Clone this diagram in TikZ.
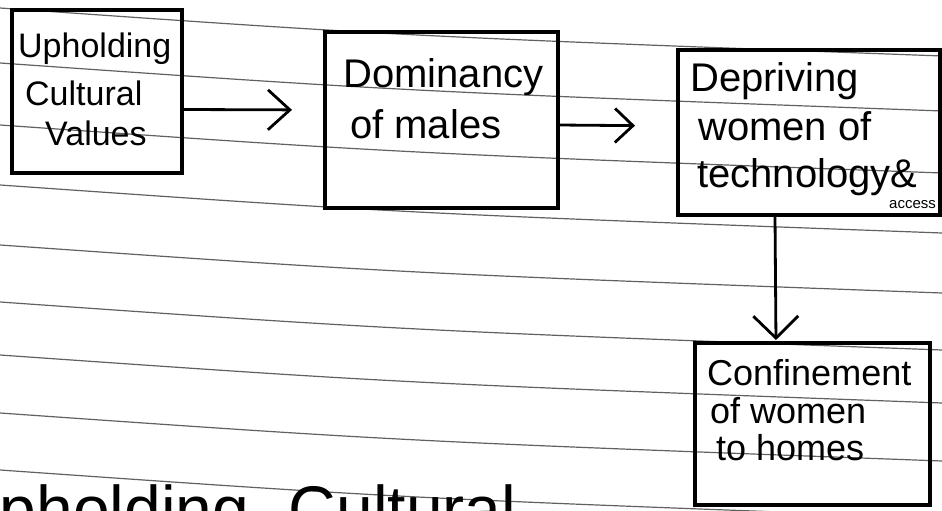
\documentclass[tikz,border=0pt]{standalone}
\usepackage{fontspec}
\setmainfont{Liberation Sans}
\usetikzlibrary{arrows.meta}
\begin{document}
\begin{tikzpicture}[x=1pt,y=-1pt,
  box/.style={draw=black,line width=3.2pt,rectangle,inner sep=0pt,outer sep=0pt},
  ruled/.style={draw=black!62,line width=1.2pt},
  arr/.style={draw=black,line width=2.8pt},
  txta/.style={anchor=base west,inner sep=0pt,font=\fontsize{34pt}{40pt}\selectfont},
  txtb/.style={anchor=base west,inner sep=0pt,font=\fontsize{40pt}{46pt}\selectfont},
  txtd/.style={anchor=base west,inner sep=0pt,font=\fontsize{36pt}{42pt}\selectfont}
]
\fill[white] (0,0) rectangle (942,511);
\useasboundingbox (0,0) rectangle (942,511);
\clip (0,0) rectangle (942,511);
% ruled paper lines
\foreach \yy in {8,63,125,185,245,302,355,413,470}{
  \draw[ruled] (0,\yy) .. controls (400,\yy+28) .. (942,\yy+48);
}
% boxes
\node[box,minimum width=170pt,minimum height=163pt] (b1) at (97,91.5) {};
\node[box,minimum width=233pt,minimum height=176pt] (b2) at (441.5,120) {};
\node[box,minimum width=262pt,minimum height=165pt] (b3) at (809,132.5) {};
\node[box,minimum width=235pt,minimum height=162pt] (b4) at (812.5,424) {};
% texts
\node[txta] (t1a) at (18,58) {Upholding};
\node[txta] (t1b) at (25,105) {Cultural};
\node[txta] (t1c) at (45,145) {Values};
\node[txtb] (t2a) at (343,88) {Dominancy};
\node[txtb] (t2b) at (350,138) {of males};
\node[txtb] (t3a) at (690,92) {Depriving};
\node[txtb] (t3b) at (698,140) {women of};
\node[txtb] (t3c) at (697,187) {technology\&};
\node[anchor=base west,inner sep=0pt,font=\fontsize{15pt}{18pt}\selectfont] (t3d) at (889,208) {access};
\node[txtd] (t4a) at (707,385) {Confinement};
\node[txtd] (t4b) at (710,423) {of women};
\node[txtd] (t4c) at (716,460) {to homes};
\node[anchor=base west,inner sep=0pt,font=\fontsize{66pt}{72pt}\selectfont] (tb) at (-48,532) {Upholding\hspace{0.6em}Cultural};
% connectors
\draw[arr,-{Straight Barb[length=22pt,width=40pt]},shorten >=33pt]
  ([yshift=-18pt]b1.east) -- ([yshift=10pt]b2.west);
\draw[arr,-{Straight Barb[length=18pt,width=34pt]},shorten >=43pt]
  ([yshift=-5pt]b2.east) -- ([yshift=6.5pt]b3.west);
\draw[arr,-{Straight Barb[length=22pt,width=45pt]},shorten >=3pt]
  ([xshift=-34pt]b3.south) -- ([xshift=-36.5pt]b4.north);
\end{tikzpicture}
\end{document}
